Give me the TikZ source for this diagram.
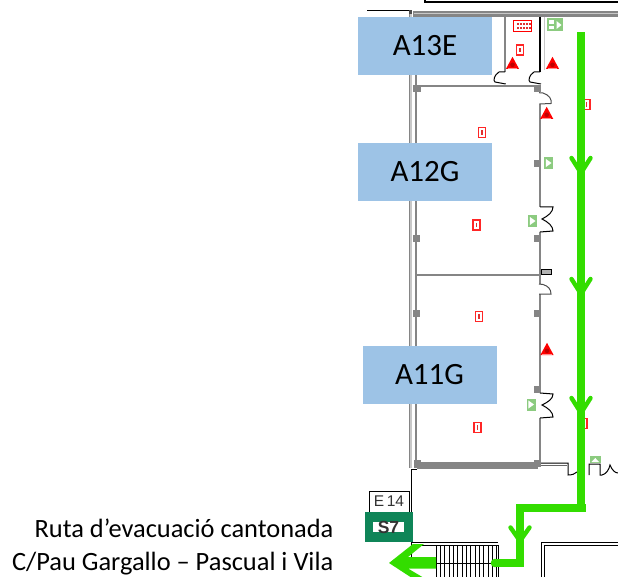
\documentclass[tikz,border=0pt]{standalone}
\usepackage{fontspec}
\setmainfont{Carlito}
\newfontfamily\arialf{Liberation Sans}
\definecolor{lbl}{HTML}{9DC3E6}
\definecolor{rt}{HTML}{33DD00}
\definecolor{wallg}{HTML}{858585}
\definecolor{walll}{HTML}{C8C8C8}
\definecolor{sgn}{HTML}{8CCB80}
\definecolor{sev}{HTML}{0F8558}
\definecolor{rdk}{HTML}{C00000}
\definecolor{rmd}{HTML}{E03030}
\tikzset{
 labelbox/.style={fill=lbl,draw=none,minimum width=134pt,minimum height=58pt,inner sep=0pt,font=\fontsize{31}{34}\selectfont},
 wall/.style={draw=wallg,line width=2.2pt},
 wallthin/.style={draw=wallg,line width=2pt},
 blk/.style={draw=black,line width=1pt},
 doorg/.style={draw=black!70,line width=1pt},
 route/.style={draw=rt,line width=8.6pt},
 chev/.style={draw=rt,line width=4.4pt,line cap=round},
 redbox/.style={draw=red!85,fill=white,line width=1.3pt,minimum width=7pt,minimum height=10pt,inner sep=0pt},
 grnbox/.style={fill=sgn,draw=none,minimum width=9pt,minimum height=12pt,inner sep=0pt},
}
\newcommand{\tri}[2]{\fill[red] (#1-6.6,#2+6) -- (#1,#2-6.2) -- (#1+6.6,#2+6) -- cycle; \fill[rdk] (#1,#2+1.8) circle (2.3pt); \fill[white,opacity=.55] (#1-4.6,#2+4.8) -- (#1+4.6,#2+4.8) -- (#1+4.6,#2+5.3) -- (#1-4.6,#2+5.3) -- cycle;}
\newcommand{\redic}[3]{\node[redbox] (#1) at (#2,#3) {}; \fill[rmd] (#2-.8,#3-2.2) rectangle (#2+.8,#3+2.2);}
\newcommand{\grnic}[3]{\node[grnbox] (#1) at (#2,#3) {}; \fill[white] (#2-2.6,#3-4) -- (#2+3,#3) -- (#2-2.6,#3+4) -- cycle;}
\begin{document}
\begin{tikzpicture}[x=1pt,y=-1pt]
\useasboundingbox (0,0) rectangle (618,577);
% top structures
\draw[line width=2pt] (425,-2) -- (425,2.2) -- (618,2.2);
\draw[line width=1pt] (367,10.5) -- (409,10.5);
\fill[wallg] (413,11) rectangle (618,17);
\draw[walll,line width=1pt] (414,14) -- (618,14);
\fill[black!70] (409,10) rectangle (412,14);
% outer left wall
\draw[walll,line width=2.4pt] (411,14) -- (411,468);
\draw[draw=wallg,line width=.5pt] (409.6,14) -- (409.6,468);
\draw[wallg,line width=2.4pt] (416.2,17) -- (416.2,466);
% upper small rooms
\draw[wall] (505,17) -- (505,72);
\draw[blk,line width=1.4pt] (540,17) -- (540,72);
\draw[walll,line width=1.6pt] (544.5,17) -- (544.5,70);
\draw[blk] (505,72) -- (499,72) .. controls (494,75) and (493,81) .. (495,82) -- (505.7,84);
\draw[blk] (540,72) -- (534,72) .. controls (529,75) and (528,81) .. (530,82) -- (541,84);
% room walls
\draw[wallthin] (416,86) -- (541,86);
\draw[wallthin] (416,275) -- (540,275);
\draw[wallthin] (540,104) -- (540,207);
\draw[wallthin] (540,232) -- (540,284);
\draw[wallthin] (540,294) -- (540,393);
\draw[wallthin] (540,418) -- (540,464);
% doors on right wall
\draw[doorg] (539,92.7) -- (543,93) .. controls (549,95) and (552,99) .. (551,103.5) -- (539.5,104);
\draw[blk] (540,207) -- (553,207) .. controls (553,212) and (548,216) .. (542,219) .. controls (548,222) and (553,226) .. (553,231) -- (540,232);
\draw[doorg] (539,284) -- (543,284.5) .. controls (548,286) and (551,289) .. (551,294) -- (539,294);
\draw[blk] (540,393) -- (553,394) .. controls (553,399) and (548,402) .. (542,405) .. controls (548,408) and (553,412) .. (553,417) -- (540,418);
% pillars
\foreach \x/\y/\w/\h in {413/85/8/7,534/85/7/7,413/235/7/7,534/235/6/7,413/310/7/7,534/310/6/7,534/160/6/7,534/386/6/7}
 \fill[wallg] (\x,\y) rectangle (\x+\w,\y+\h);
% bottom wall room
\fill[wallg] (417,462) rectangle (538,469);
\fill[wallg] (414,460) rectangle (421,468);
\fill[wallg] (534,460) rectangle (541,467);
% south corridor wall
\draw[black!60,line width=.8pt] (541,465) -- (567,465);
\draw[blk] (541,463) -- (568,463) -- (568,475) .. controls (572,475) and (575,474) .. (577,472);
\draw[blk] (589,475) -- (589,464) -- (600,464) -- (600,475) -- (602,475) .. controls (606,474) and (609,470) .. (610,465) .. controls (612,470) and (615,473) .. (618,473);
% lower-left walls
\draw[blk] (417,469) -- (411,469) -- (411,512);
\draw[blk] (411.5,542) -- (411.5,560);
\draw[blk] (411,542.7) -- (498,542.7);
\draw[blk,line width=.8pt] (411,545) -- (498,545);
% stairs
\foreach \x in {436,440.33,...,497} \draw[black,line width=.7pt] (\x,545) -- (\x,577);
\draw[black,line width=.8pt] (498,545) -- (498,577);
\draw[black,line width=.8pt] (436,563) -- (498,563);
% lower-right room
\draw[blk,line width=1.2pt] (541.7,577) -- (541.7,542.7) -- (618,542.7);
\draw[blk,line width=1.2pt] (544.5,577) -- (544.5,545.5) -- (618,545.5);
% E14 / S7
\node[draw=black,fill=white,line width=1pt,minimum width=40pt,minimum height=21pt,inner sep=0pt,font=\arialf\fontsize{15.5}{15.5}\selectfont,text=black!80] (e14) at (389,501.5) {E\,14};
\node[fill=sev,minimum width=48pt,minimum height=30pt,inner sep=0pt] (s7) at (389,527) {};
\node[fill=white,minimum width=31pt,minimum height=10.6pt,inner sep=0pt] (s7w) at (388.5,527) {};
\node[font=\arialf\bfseries\fontsize{17.5}{17.5}\selectfont,inner sep=0pt,text=black!80] (s7t) at (388.5,527) {S7};
% labels
\node[labelbox] (a13) at (425,46) {A13E};
\node[labelbox] (a12) at (425,172) {A12G};
\node[labelbox] (a11) at (429.5,375) {A11G};
% red boxes
\redic{r1}{520}{50}
\redic{r2}{482}{132.7}
\redic{r3}{476.5}{225}
\redic{r4}{479}{316.5}
\redic{r5}{477.5}{427.5}
\redic{r6}{586.5}{104.5}
\redic{r7}{583.5}{423.5}
\node[draw=red,fill=white,line width=1.2pt,minimum width=18pt,minimum height=11.5pt,inner sep=0pt] (r8) at (522.5,26) {};
\foreach \x in {517,520,523,526,529} {\fill[rmd] (\x,23.5) rectangle (\x+1.6,25); \fill[rmd] (\x,27.5) rectangle (\x+1.6,29);}
% triangles
\tri{512.5}{63}\tri{552.5}{63}\tri{546.7}{113}\tri{547}{349}
% green
\node[grnbox,minimum width=16pt,minimum height=13pt] (g1) at (555,25) {};
\fill[white] (549,20.5) rectangle (554,24);
\fill[white] (549,26) rectangle (554,29.5);
\fill[white] (556.5,21) -- (561.5,25) -- (556.5,29) -- cycle;
\grnic{g2}{548.5}{163}
\grnic{g3}{532.5}{221}
\grnic{g4}{531}{404.5}
\node[grnbox,minimum width=10.6pt,minimum height=7.5pt] (g5) at (595.3,459.7) {};
\fill[white] (591.5,462) -- (595.3,458) -- (599,462) -- cycle;
\node[draw=black,fill=black!30,line width=.7pt,minimum width=10pt,minimum height=5.5pt,inner sep=0pt] (k1) at (546.7,272) {};
% route
\coordinate (p1) at (581,32.5);
\coordinate (p2) at (581,508);
\coordinate (p3) at (585.5,508);
\coordinate (p4) at (520,508);
\coordinate (p5) at (520,563);
\coordinate (p6) at (495,563);
\draw[route] (p1) -- (p2);
\draw[route] (p3) -- (p4) -- (p5) -- (p6);
\fill[rt] (p6) circle (4.3pt);
\foreach \y in {158,279,398} \draw[chev] (571.5,\y) -- (581,\y+15) -- (590.5,\y);
\draw[chev] (510.5,527.5) -- (520,541) -- (529.5,527.5);
% exit arrow
\fill[rt] (389,563) -- (413,544) -- (424,544) -- (408,557) -- (436,557) -- (436,568.5) -- (408,568.5) -- (424,578) -- (412,578) -- cycle;
% caption
\node[align=right,anchor=east,inner sep=0pt,font=\fontsize{26.4}{33}\selectfont] (cap) at (333.5,547) {Ruta d’evacuació cantonada\\C/Pau Gargallo – Pascual i Vila};
\end{tikzpicture}
\end{document}
